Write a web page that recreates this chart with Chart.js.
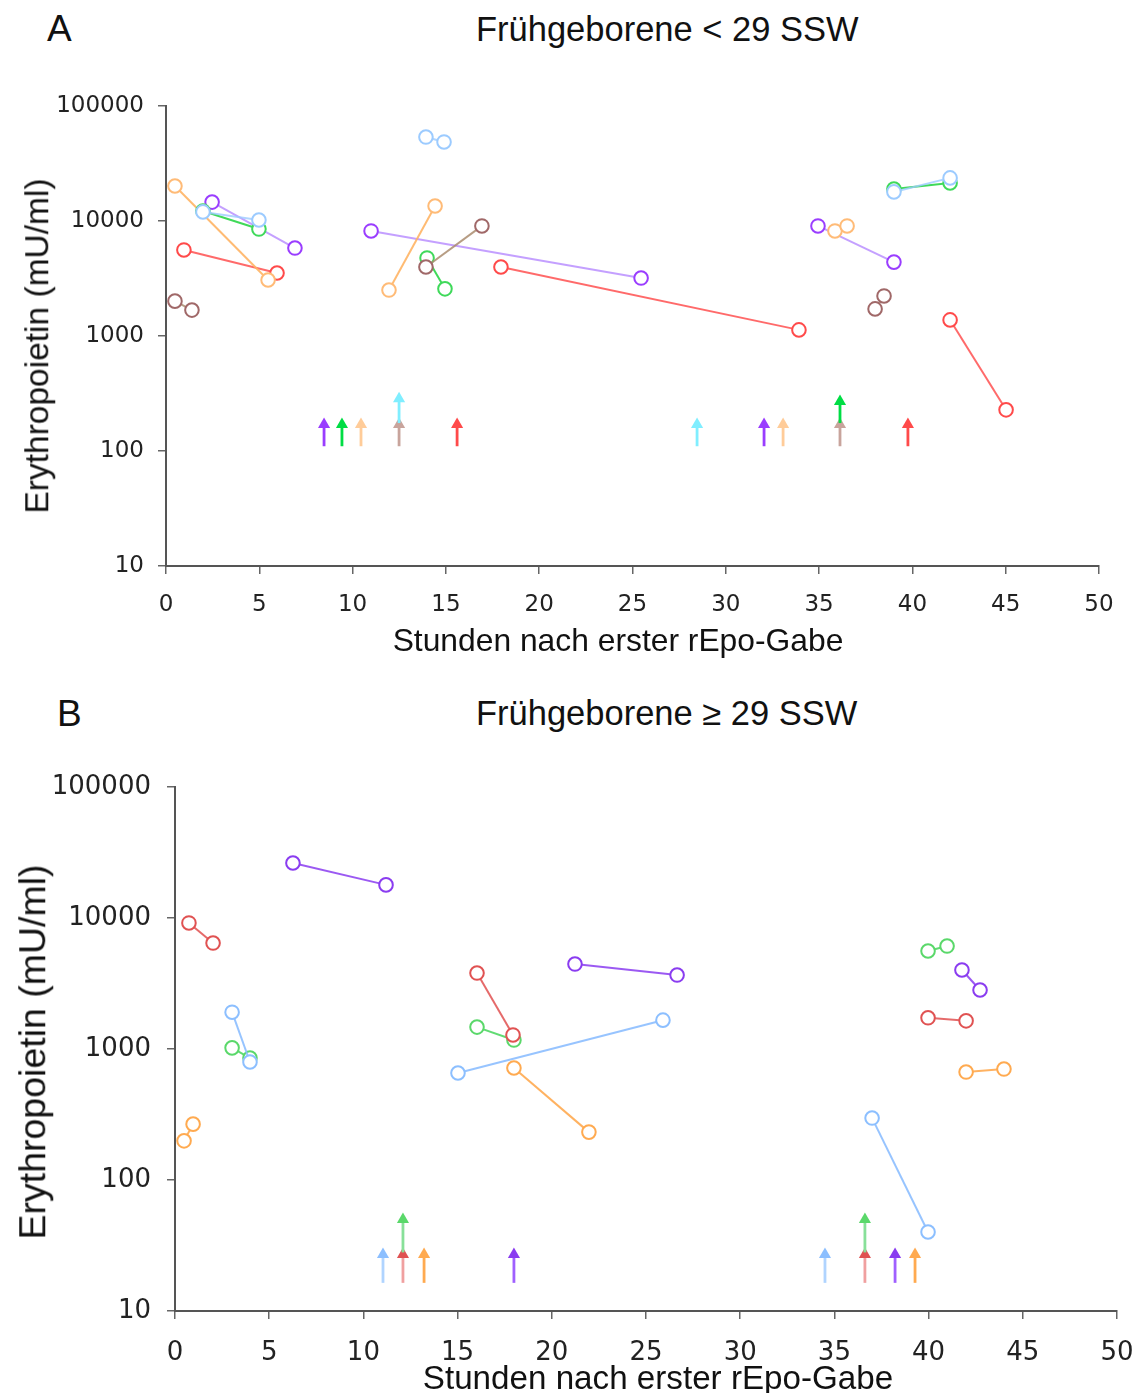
<!DOCTYPE html>
<html>
<head>
<meta charset="utf-8">
<script src="https://cdn.jsdelivr.net/npm/chart.js@4.4.1/dist/chart.umd.min.js"></script>
<style>
  html, body { margin: 0; padding: 0; background: #fff; }
  body { width: 1136px; height: 1393px; position: relative; overflow: hidden; font-family: "Liberation Sans", Arial, sans-serif; color: #111; }
  .panel { position: absolute; left: 0; width: 1136px; }
  .letter { position: absolute; font-size: 37px; line-height: 1; }
  .title { position: absolute; font-size: 34.5px; line-height: 1; white-space: nowrap; }
  .axis-title { position: absolute; line-height: 1; white-space: nowrap; transform: translate(-50%, -50%); z-index: 2; }
  .axis-title.vertical { transform: translate(-50%, -50%) rotate(-90deg); }
</style>
</head>
<body>
<div class="letter" style="left:47px; top:10px;">A</div>
<div class="title" style="left:476px; top:12px;">Frühgeborene &lt; 29 SSW</div>
<div class="panel" style="top:0; height:660px;"><canvas id="chartA"></canvas></div>
<div class="axis-title vertical" style="left:37px; top:346px; font-size:33.5px;">Erythropoietin (mU/ml)</div>
<div class="axis-title" style="left:618px; top:641px; font-size:31.8px;">Stunden nach erster rEpo-Gabe</div>

<div class="letter" style="left:57px; top:695px;">B</div>
<div class="title" style="left:476px; top:696px;">Frühgeborene ≥ 29 SSW</div>
<div class="panel" style="top:680px; height:713px;"><canvas id="chartB"></canvas></div>
<div class="axis-title vertical" style="left:33px; top:1052px; font-size:37.5px;">Erythropoietin (mU/ml)</div>
<div class="axis-title" style="left:658px; top:1378px; font-size:33.2px;">Stunden nach erster rEpo-Gabe</div>

<script>
// Erythropoietin (mU/ml) vs. hours after the first rEpo dose.
// Each inner list is one pair of connected measurements [hours, EPO].
const aRed = [
  [[0.96, 5600], [5.95, 3530]],
  [[17.95, 3980], [33.92, 1130]],
  [[42.02, 1380], [45.02, 228]]
];
const aOrange = [
  [[0.48, 20150], [5.47, 3070]],
  [[11.95, 2510], [14.42, 13500]],
  [[35.85, 8190], [36.5, 9060]]
];
const aGreen = [
  [[1.98, 12200], [4.98, 8510]],
  [[13.99, 4770], [14.95, 2570]],
  [[39.01, 18970], [42.02, 21400]]
];
const aPurple = [
  [[2.47, 14600], [6.91, 5820]],
  [[10.99, 8190], [25.46, 3190]],
  [[34.94, 9060], [39.01, 4390]]
];
const aBlue = [
  [[1.98, 12000], [4.98, 10200]],
  [[13.93, 53700], [14.9, 48700]],
  [[39.01, 17900], [42.02, 23700]]
];
const aBrown = [
  [[0.48, 2010], [1.39, 1680]],
  [[13.93, 3980], [16.93, 9060]],
  [[38.0, 1720], [38.48, 2230]]
];

// rEpo doses (hours), drawn as arrows
const aDosePurple = [8.47, 32.05];
const aDoseGreen = [9.43];
const aDoseGreenStacked = [36.12];
const aDosePeach = [10.45, 33.07];
const aDoseBrown = [12.49, 36.12];
const aDoseCyan = [28.46];
const aDoseCyanStacked = [12.49];
const aDoseRed = [15.6, 39.76];

const bRed = [
  [[0.74, 9170], [2.02, 6440]],
  [[16.03, 3800], [17.94, 1280]],
  [[39.97, 1730], [41.99, 1640]]
];
const bGreen = [
  [[3.03, 1020], [3.98, 853]],
  [[16.03, 1470], [17.99, 1170]],
  [[39.97, 5600], [40.98, 6110]]
];
const bBlue = [
  [[3.03, 1910], [3.98, 796]],
  [[15.02, 656], [25.9, 1660]],
  [[37.0, 297], [39.97, 40.1]]
];
const bPurple = [
  [[6.26, 26300], [11.2, 17900]],
  [[21.23, 4450], [26.65, 3670]],
  [[41.77, 4010], [42.73, 2820]]
];
const bOrange = [
  [[0.96, 267], [0.48, 199]],
  [[17.99, 716], [21.97, 232]],
  [[41.99, 667], [44.0, 703]]
];

const bDoseBlue = [11.04, 34.5];
const bDoseRed = [12.1, 36.62];
const bDoseGreenStacked = [12.1, 36.62];
const bDoseOrange = [13.22, 39.28];
const bDosePurple = [17.99, 38.22];

const decades = [10, 100, 1000, 10000, 100000];

function pairSets(pairs, color, lineColor) {
  return pairs.map(p => ({
    data: p.map(([x, y]) => ({ x, y })),
    borderColor: lineColor,
    borderWidth: 2,
    pointBorderColor: color,
    pointBackgroundColor: '#fff',
    pointBorderWidth: 2,
    pointRadius: 6.8,
    fill: false
  }));
}

function arrowSets(hours, lineColor, headColor, from, to) {
  return hours.map(h => ({
    data: [{ x: h, y: from }, { x: h, y: to }],
    borderColor: lineColor,
    borderWidth: 2.8,
    pointStyle: 'triangle',
    pointRadius: [0, 7],
    pointBorderWidth: 0,
    pointBackgroundColor: headColor,
    pointBorderColor: headColor,
    fill: false
  }));
}

function buildChart(id, datasets, o) {
  const tickFont = { family: '"DejaVu Sans", Verdana, sans-serif', size: o.tickSize };
  return new Chart(document.getElementById(id), {
    type: 'line',
    data: { datasets },
    options: {
      responsive: true,
      maintainAspectRatio: false,
      animation: false,
      layout: { padding: { top: o.top, right: o.right, left: 0, bottom: 0 } },
      plugins: { legend: { display: false }, tooltip: { enabled: false } },
      scales: {
        x: {
          type: 'linear',
          min: 0,
          max: 50,
          ticks: { stepSize: 5, color: '#222', font: tickFont, padding: o.xPad },
          grid: { drawOnChartArea: false, drawTicks: true, tickLength: 8, color: '#666', lineWidth: 1.5 },
          border: { display: true, color: '#555', width: 2 },
          afterFit: s => { s.height = o.xHeight; s.paddingLeft = 0; s.paddingRight = 0; }
        },
        y: {
          type: 'logarithmic',
          min: 10,
          max: 100000,
          afterBuildTicks: s => { s.ticks = decades.map(v => ({ value: v })); },
          ticks: { color: '#222', font: tickFont, padding: o.yPad, callback: v => String(v) },
          grid: { drawOnChartArea: false, drawTicks: true, tickLength: 8, color: '#666', lineWidth: 1.5 },
          border: { display: true, color: '#555', width: 2 },
          afterFit: s => { s.width = o.yWidth; s.paddingTop = 0; s.paddingBottom = 0; }
        }
      }
    }
  });
}

// Panel A: infants < 29 weeks
const setsA = [].concat(
  pairSets(aBrown, '#a06868', 'rgba(170,140,110,0.85)'),
  pairSets(aBlue, '#9ccbff', 'rgba(156,203,255,0.8)'),
  pairSets(aGreen, '#3fd95a', 'rgba(30,210,60,0.85)'),
  pairSets(aOrange, '#ffbb77', 'rgba(255,180,100,0.9)'),
  pairSets(aPurple, '#9a3dff', 'rgba(190,150,255,0.9)'),
  pairSets(aRed, '#ff4a4a', 'rgba(255,80,80,0.85)'),
  arrowSets(aDoseCyanStacked, '#80eeff', '#80eeff', 175, 285),
  arrowSets(aDoseGreenStacked, '#00dd44', '#00dd44', 175, 270),
  arrowSets(aDosePurple, '#9a3dff', '#9a3dff', 110, 170),
  arrowSets(aDoseGreen, '#00dd44', '#00dd44', 110, 170),
  arrowSets(aDosePeach, '#ffcc99', '#ffcc99', 110, 170),
  arrowSets(aDoseBrown, '#c8a49c', '#c8a49c', 110, 170),
  arrowSets(aDoseCyan, '#80eeff', '#80eeff', 110, 170),
  arrowSets(aDoseRed, '#ff4a4a', '#ff4a4a', 110, 170)
);

buildChart('chartA', setsA, {
  top: 106, right: 37, yWidth: 166, xHeight: 94,
  tickSize: 23, xPad: 17, yPad: 14
});

// Panel B: infants >= 29 weeks
const setsB = [].concat(
  pairSets(bOrange, '#ffaa50', 'rgba(255,170,80,0.9)'),
  pairSets(bBlue, '#8cbfff', 'rgba(140,190,255,0.9)'),
  pairSets(bRed, '#e05252', 'rgba(225,80,80,0.85)'),
  pairSets(bGreen, '#5ad86a', 'rgba(80,215,100,0.9)'),
  pairSets(bPurple, '#8a3cf0', 'rgba(138,60,240,0.85)'),
  arrowSets(bDoseGreenStacked, '#88e099', '#5ad86a', 28, 50),
  arrowSets(bDoseBlue, '#b0d4ff', '#8cbfff', 16.4, 27),
  arrowSets(bDoseRed, '#f0a0a0', '#e05252', 16.4, 27),
  arrowSets(bDoseOrange, '#ffaa50', '#ffaa50', 16.4, 27),
  arrowSets(bDosePurple, '#a060ff', '#8a3cf0', 16.4, 27)
);

buildChart('chartB', setsB, {
  top: 107, right: 19, yWidth: 175, xHeight: 82,
  tickSize: 26, xPad: 19, yPad: 16
});
</script>
</body>
</html>
